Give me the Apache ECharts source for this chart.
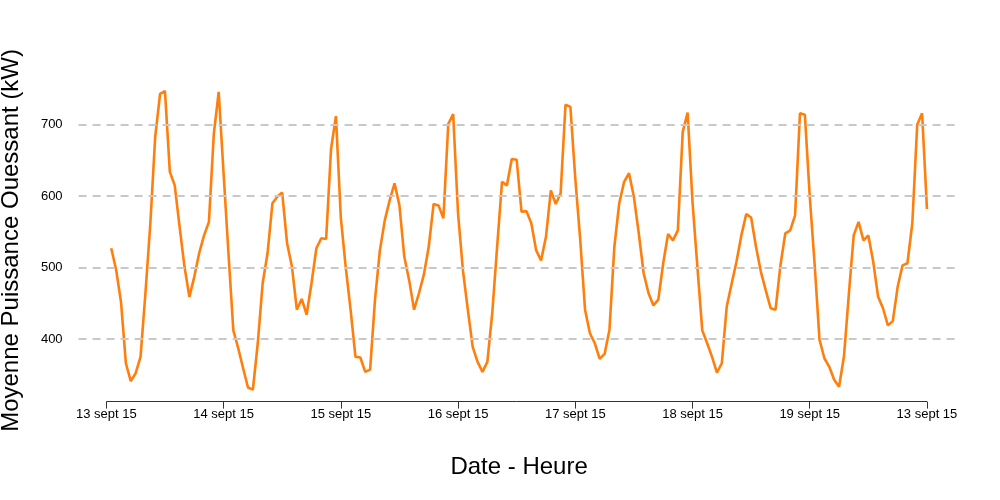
<!DOCTYPE html>
<html><head><meta charset="utf-8">
<script src="https://cdn.jsdelivr.net/npm/echarts@6/dist/echarts.min.js"></script>
<style>html,body{margin:0;padding:0;background:#fff}#c{width:1000px;height:500px}</style>
</head><body><div id="c"></div>
<script>
// Tick labels (as in the original, the last tick repeats "13 sept 15")
const tickLabels = ["13 sept 15","14 sept 15","15 sept 15","16 sept 15","17 sept 15","18 sept 15","19 sept 15","13 sept 15"];
const tickHours = [0, 24, 48, 72, 96, 120, 144, 168];
const yTicks = [400, 500, 600, 700];

// Hourly mean power (kW), hours 1..24 of each day
const day1 = [527,497,452,366,341,352,375,464,561,683,743,747,634,615,557,501,459,487,520,545,564,687,746,632];
const day2 = [520,412,387,359,332,329,394,478,520,590,599,605,534,501,441,456,434,478,527,541,540,666,712,570];
const day3 = [501,441,375,374,354,357,455,524,566,594,618,587,515,482,441,464,490,529,589,587,569,701,715,576];
const day4 = [496,441,389,368,354,368,436,529,620,615,652,651,578,579,562,524,510,543,608,589,604,728,725,625];
const day5 = [540,441,408,394,372,379,413,529,590,620,632,599,548,492,464,447,455,506,547,538,552,690,717,592];
const day6 = [501,412,394,375,353,366,445,477,508,545,575,570,529,494,468,443,441,503,548,552,573,716,714,600];
const day7 = [505,399,373,361,343,333,375,462,545,564,538,545,508,459,443,419,425,473,503,506,562,700,716,582];

const values = [].concat(day1, day2, day3, day4, day5, day6, day7);
const seriesData = values.map((v, i) => [i + 1, v]);

const xMin = -5.68, xMax = 174.68, yMin = 312.3, yMax = 763.7;

const chart = echarts.init(document.getElementById('c'), null, {renderer: 'canvas'});
chart.setOption({
  animation: false,
  backgroundColor: '#fff',
  textStyle: {fontFamily: '"Liberation Sans", Arial, Helvetica, sans-serif'},
  grid: {left: 78.6, right: 40.4, top: 79.2, bottom: 98.4, containLabel: false, outerBoundsMode: 'none'},
  xAxis: {
    type: 'value', min: xMin, max: xMax,
    axisLine: {show: false},
    splitLine: {show: false},
    axisTick: {show: true, customValues: tickHours, length: 7, lineStyle: {color: '#333', width: 1}},
    axisLabel: {customValues: tickHours, formatter: v => tickLabels[tickHours.indexOf(v)], fontSize: 13, color: '#000', margin: 6},
    name: 'Date - Heure', nameLocation: 'middle', nameGap: 54,
    nameTextStyle: {fontSize: 24, color: '#000'}
  },
  yAxis: {
    type: 'value', min: yMin, max: yMax,
    axisLine: {show: false}, axisTick: {show: false}, splitLine: {show: false},
    axisLabel: {customValues: yTicks, fontSize: 13, color: '#000', margin: 16},
    name: 'Moyenne Puissance Ouessant (kW)', nameLocation: 'middle', nameGap: 55,
    nameTextStyle: {fontSize: 24, color: '#000'}
  },
  series: [
    {
      type: 'line', data: [], z: 1, silent: true,
      markLine: {
        silent: true, symbol: ['none', 'none'], label: {show: false},
        lineStyle: {type: [8, 6], color: '#c8c8c8', width: 2},
        data: yTicks.map(v => ({yAxis: v}))
      }
    },
    {
      type: 'line', data: [], z: 1, silent: true,
      markLine: {
        silent: true, symbol: ['none', 'none'], label: {show: false},
        lineStyle: {type: 'solid', color: '#333', width: 1},
        data: [[{coord: [tickHours[0], yMin]}, {coord: [tickHours[tickHours.length - 1], yMin]}]]
      }
    },
    {
      type: 'line', data: seriesData, z: 3,
      showSymbol: false, symbol: 'none',
      lineStyle: {color: '#ff7f0e', width: 2.6},
      itemStyle: {color: '#ff7f0e'}
    }
  ]
});
</script>
</body></html>
